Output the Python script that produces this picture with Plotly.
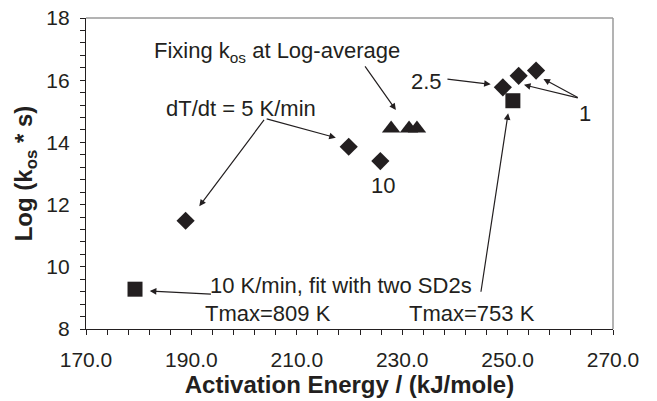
import plotly.graph_objects as go

# Activation energy (kJ/mole) and log(k_os * s) for each fit
diamond_E = [188.9, 219.85, 225.85, 249.1, 252.1, 255.4]
diamond_logk = [11.48, 13.86, 13.4, 15.77, 16.14, 16.31]

triangle_E = [227.9, 231.3, 232.8]
triangle_logk = [14.45, 14.45, 14.45]

square_E = [179.3, 251.0]
square_logk = [9.28, 15.34]

x_ticks = [170, 190, 210, 230, 250, 270]
y_ticks = [8, 10, 12, 14, 16, 18]

INK = "#231f20"
FONT = "Liberation Sans, Arial, sans-serif"

fig = go.Figure()

fig.add_trace(go.Scatter(x=diamond_E, y=diamond_logk, mode="markers",
                         marker=dict(symbol="diamond", size=14, color=INK),
                         showlegend=False))
fig.add_trace(go.Scatter(x=triangle_E, y=triangle_logk, mode="markers",
                         marker=dict(symbol="triangle-up", size=16, color=INK),
                         showlegend=False))
fig.add_trace(go.Scatter(x=square_E, y=square_logk, mode="markers",
                         marker=dict(symbol="square", size=15, color=INK),
                         showlegend=False))

# arrows: (tail_x, tail_y, head_x, head_y) in data units
arrows = [
    (204.0, 14.77, 191.5, 11.95),
    (204.0, 14.77, 217.4, 14.15),
    (222.75, 16.49, 228.8, 15.04),
    (238.3, 16.04, 246.8, 15.87),
    (263.6, 15.42, 253.1, 15.85),
    (263.6, 15.42, 256.8, 16.04),
    (244.9, 9.15, 250.1, 14.94),
    (194.0, 9.12, 182.1, 9.22),
]
for tx, ty, hx, hy in arrows:
    fig.add_annotation(x=hx, y=hy, ax=tx, ay=ty, xref="x", yref="y",
                       axref="x", ayref="y", text="", showarrow=True,
                       arrowhead=2, arrowsize=1.1, arrowwidth=1.2,
                       arrowcolor=INK, standoff=0, startstandoff=0)

labels = [
    (206.2, 16.92, "Fixing k<sub>os</sub> at Log-average"),
    (199.5, 15.1, "dT/dt = 5 K/min"),
    (226.3, 12.63, "10"),
    (234.7, 15.95, "2.5"),
    (264.7, 14.94, "1"),
    (218.3, 9.41, "10 K/min, fit with two SD2s"),
    (204.6, 8.5, "Tmax=809 K"),
    (243.2, 8.5, "Tmax=753 K"),
]
for lx, ly, txt in labels:
    fig.add_annotation(x=lx, y=ly, xref="x", yref="y", text=txt,
                       showarrow=False, xanchor="center", yanchor="middle",
                       font=dict(family=FONT, size=22, color=INK))

# light frame on the top and right of the plotting area
fig.add_shape(type="line", xref="paper", yref="paper", x0=0, x1=1, y0=1, y1=1,
              line=dict(color="#9a9a9a", width=1.5))
fig.add_shape(type="line", xref="paper", yref="paper", x0=1, x1=1, y0=0, y1=1,
              line=dict(color="#9a9a9a", width=1.5))

fig.update_xaxes(range=[170, 270], tickvals=x_ticks, tickformat=".1f",
                 showgrid=False, zeroline=False, showline=True,
                 linecolor=INK, linewidth=1.2, ticks="outside", ticklen=5,
                 tickwidth=1, tickcolor=INK,
                 minor=dict(dtick=4, tick0=170, ticks="outside", ticklen=5,
                            tickwidth=1, tickcolor=INK, showgrid=False),
                 tickfont=dict(family=FONT, size=21, color=INK),
                 ticklabelstandoff=7,
                 title=dict(text="<b>Activation Energy / (kJ/mole)</b>",
                            font=dict(family=FONT, size=24, color=INK),
                            standoff=4))
fig.update_yaxes(range=[8, 18], tickvals=y_ticks,
                 showgrid=False, zeroline=False, showline=True,
                 linecolor=INK, linewidth=1.2, ticks="outside", ticklen=5,
                 tickwidth=1, tickcolor=INK,
                 minor=dict(dtick=0.4, tick0=8, ticks="outside", ticklen=5,
                            tickwidth=1, tickcolor=INK, showgrid=False),
                 tickfont=dict(family=FONT, size=21, color=INK),
                 ticklabelstandoff=6,
                 title=dict(text="<b>Log (k<sub>os</sub> * s)</b>",
                            font=dict(family=FONT, size=24, color=INK),
                            standoff=6))

fig.update_layout(width=657, height=401,
                  margin=dict(l=86, r=44, t=18, b=72, autoexpand=False),
                  plot_bgcolor="white", paper_bgcolor="white")

fig.write_html("out.html")
